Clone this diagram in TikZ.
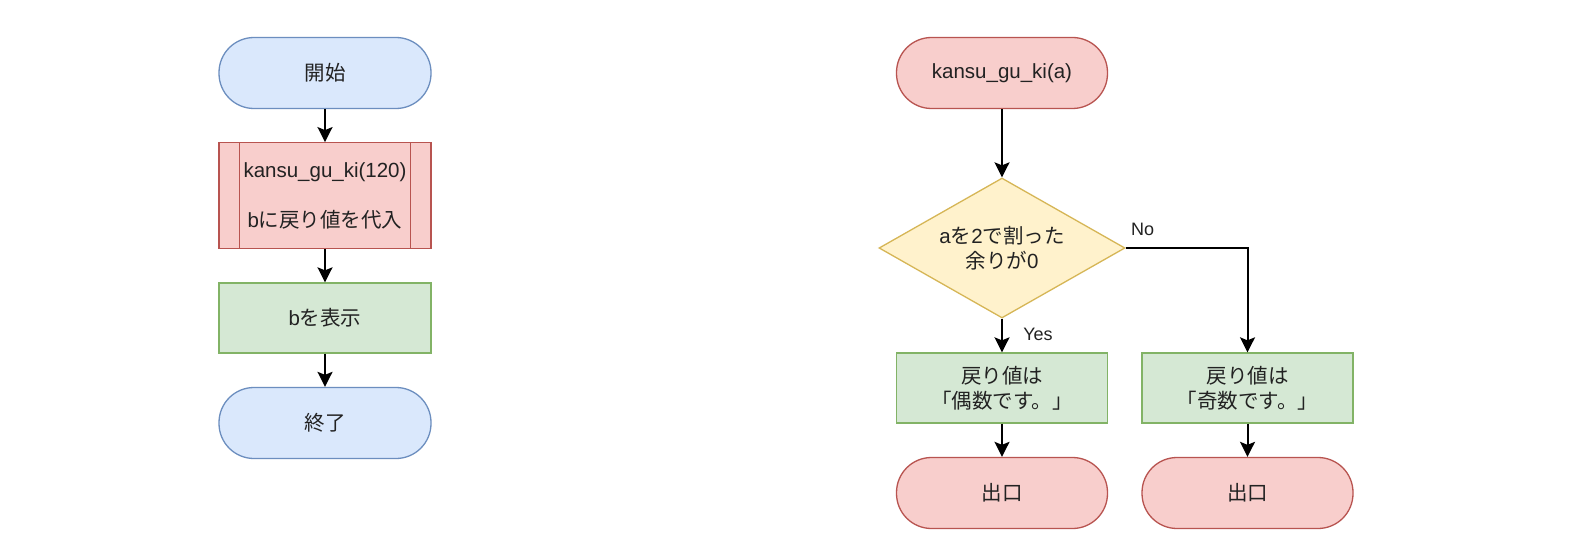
\documentclass[tikz,border=0pt]{standalone}
\usepackage{fontspec}
\setmainfont{Liberation Sans}
\newfontfamily\jpfont{Noto Sans CJK JP}
\newcommand{\J}[1]{{\jpfont #1}}
\usetikzlibrary{shapes.geometric,arrows.meta}
\definecolor{bluefill}{HTML}{DAE8FC}
\definecolor{bluedraw}{HTML}{6C8EBF}
\definecolor{redfill}{HTML}{F8CECC}
\definecolor{reddraw}{HTML}{B85450}
\definecolor{greenfill}{HTML}{D5E8D4}
\definecolor{greendraw}{HTML}{82B366}
\definecolor{yelfill}{HTML}{FFF2CC}
\definecolor{yeldraw}{HTML}{D6B656}
\definecolor{txt}{HTML}{222222}
\begin{document}
\begin{tikzpicture}[x=1pt,y=-1pt,
  base/.style={line width=1.3pt, text=txt, align=center, inner sep=0pt,
    font=\fontsize{20.5}{25}\selectfont},
  term/.style={base, rectangle, rounded corners=35pt, minimum width=212pt, minimum height=71pt},
  proc/.style={base, rectangle, minimum width=211pt, minimum height=70pt},
  blueshape/.style={fill=bluefill, draw=bluedraw},
  redshape/.style={fill=redfill, draw=reddraw},
  greenshape/.style={fill=greenfill, draw=greendraw},
  yelshape/.style={fill=yelfill, draw=yeldraw},
  arr/.style={line width=2pt, draw=black, -{Stealth[length=15pt,width=15pt,inset=3pt]}},
  lbl/.style={text=txt, inner sep=0pt, font=\fontsize{18}{22}\selectfont}
]
\useasboundingbox (0,0) rectangle (1577,559);
\fill[white] (0,0) rectangle (1577,559);

% left flow
\node[term, blueshape] (start) at (325,73) {\J{開始}};
\node[base, redshape, rectangle, minimum width=212pt, minimum height=105.5pt] (sub) at (325,195.5)
  {kansu\_gu\_ki(120)\\[25pt]b\J{に戻り値を代入}};
\draw[line width=1.3pt, reddraw] ([xshift=21pt]sub.north west) -- ([xshift=21pt]sub.south west);
\draw[line width=1.3pt, reddraw] ([xshift=-21pt]sub.north east) -- ([xshift=-21pt]sub.south east);
\node[proc, greenshape, minimum width=212pt] (show) at (325,318) {b\J{を表示}};
\node[term, blueshape] (end) at (325,423) {\J{終了}};

\draw[arr] (start) -- (sub);
\draw[arr] (sub) -- (show);
\draw[arr] (show) -- (end);

% right flow
\node[term, redshape, minimum width=211pt] (fn) at (1002,73) {kansu\_gu\_ki(a)};
\node[base, yelshape, diamond, minimum width=246pt, minimum height=140pt, aspect=1.757] (dec) at (1002,248)
  {a\J{を}2\J{で割った}\\\J{余りが}0};
\node[proc, greenshape] (even) at (1002,388) {\J{戻り値は}\\\J{「偶数です。」}};
\node[proc, greenshape] (odd) at (1247.5,388) {\J{戻り値は}\\\J{「奇数です。」}};
\node[term, redshape, minimum width=211pt] (ex1) at (1002,493) {\J{出口}};
\node[term, redshape, minimum width=211pt] (ex2) at (1247.5,493) {\J{出口}};

\draw[arr] (fn) -- (dec);
\draw[arr] (dec.south) -- (even);
\draw[arr] (dec.east) -- (dec.east -| odd.north) -- (odd.north);
\draw[arr] (even) -- (ex1);
\draw[arr] (odd) -- (ex2);

\node[lbl] (nolbl) at (1142.5,229) {No};
\node[lbl] (yeslbl) at (1038,334) {Yes};
\end{tikzpicture}
\end{document}
